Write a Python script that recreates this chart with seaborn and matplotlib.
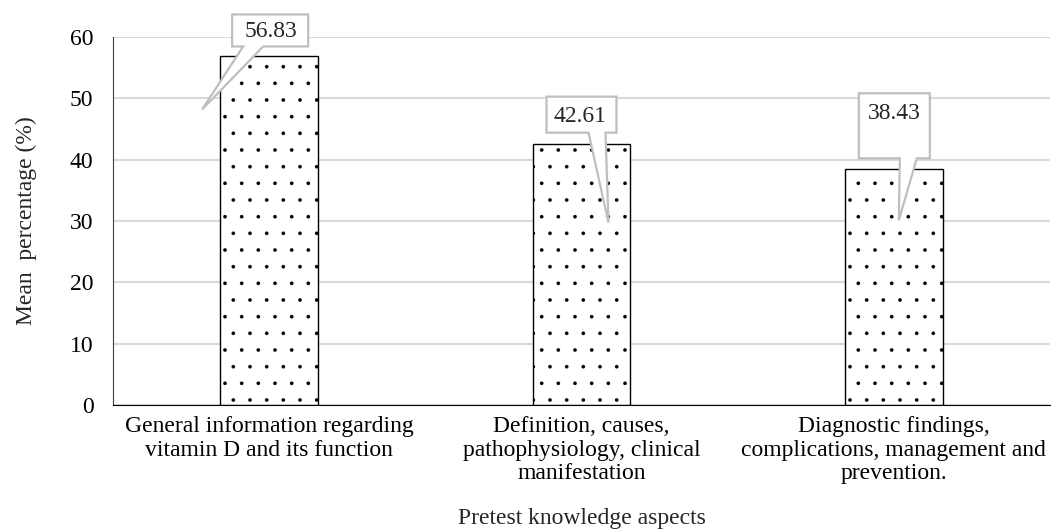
import numpy as np
import pandas as pd
import matplotlib
matplotlib.use('Agg')
import matplotlib.pyplot as plt
import matplotlib.transforms as mtransforms
from matplotlib.patches import Polygon
import seaborn as sns

# Data
aspects = ['General information regarding\nvitamin D and its function',
           'Definition, causes,\npathophysiology, clinical\nmanifestation',
           'Diagnostic findings,\ncomplications, management and\nprevention.']
mean_pct = [56.83, 42.61, 38.43]
y_ticks = [0, 10, 20, 30, 40, 50, 60]

df = pd.DataFrame({'aspect': aspects, 'mean': mean_pct})

sns.set_style('white')
plt.rcParams['font.family'] = ['Liberation Serif', 'DejaVu Serif']
plt.rcParams['hatch.linewidth'] = 0.2

FS = 17

fig = plt.figure(figsize=(10.51, 5.32), dpi=100)
ax = fig.add_axes([113 / 1051, 1 - 405 / 532, 937 / 1051, 368 / 532])

sns.barplot(data=df, x='aspect', y='mean', color='white', edgecolor='black',
            linewidth=1.0, width=0.313, ax=ax, zorder=2)
for p in ax.patches:
    p.set_hatch('.')
    p.set_facecolor('white')
    p.set_edgecolor('black')

ax.set_ylim(0, 60)
ax.set_xlim(-0.5, 2.5)
ax.set_yticks(y_ticks)
ax.yaxis.grid(True, color='#d9d9d9', linewidth=1.5, zorder=0)
ax.set_axisbelow(True)
for s in ['top', 'right']:
    ax.spines[s].set_visible(False)
ax.spines['left'].set_color('#404040')
ax.spines['bottom'].set_color('black')
ax.tick_params(axis='both', length=0, labelsize=FS, colors='black')
ax.tick_params(axis='x', pad=8)
ax.tick_params(axis='y', pad=14)
for lab in ax.get_xticklabels():
    lab.set_linespacing(1.15)
ax.set_xlabel('Pretest knowledge aspects', fontsize=FS, labelpad=17)
ax.set_ylabel('Mean  percentage (%)', fontsize=FS, labelpad=24)

# Callout geometry in pixel offsets from each bar top (box l, r, top, bottom; pointer base l, r; tip)
callouts = [
    dict(box=(-37, 39, -42, -10), base=(-26, -6), tip=(-67, 53), text=(2, -25)),
    dict(box=(-35, 35, -47, -11), base=(7, 24), tip=(27, 79), text=(-1, -27)),
    dict(box=(-35, 36, -76, -11), base=(6, 23), tip=(5, 51), text=(0, -56)),
]

for i, (val, c) in enumerate(zip(mean_pct, callouts)):
    trans = mtransforms.Affine2D().scale(1, -1) + mtransforms.ScaledTranslation(i, val, ax.transData)
    l, r, t, b = c['box']
    bl, br = c['base']
    tx, ty = c['tip']
    verts = [(l, t), (r, t), (r, b), (br, b), (tx, ty), (bl, b), (l, b)]
    poly = Polygon(verts, closed=True, facecolor='white', edgecolor='#bfbfbf',
                   linewidth=1.6, transform=trans, clip_on=False, zorder=5)
    ax.add_patch(poly)
    ax.text(c['text'][0], c['text'][1], f'{val:.2f}', transform=trans,
            ha='center', va='center', fontsize=FS, zorder=6)

fig.savefig('out.png', dpi=100)
